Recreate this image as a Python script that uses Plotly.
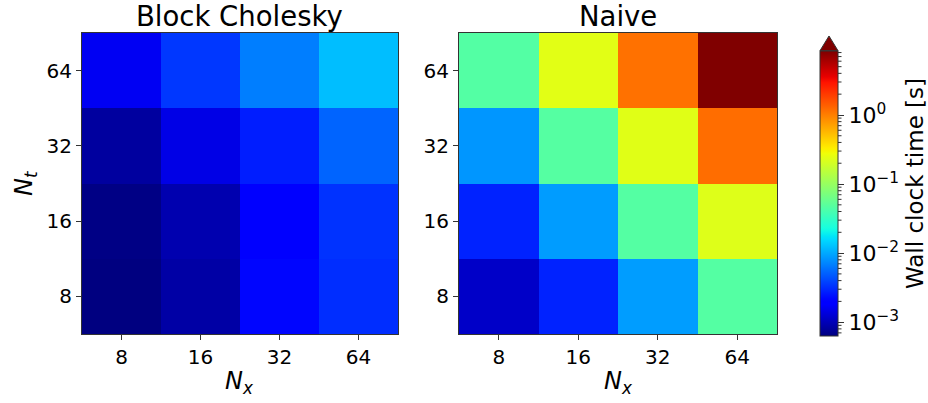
import numpy as np
import plotly.graph_objects as go

# ---------------- data ----------------
nx_labels = ["8", "16", "32", "64"]
nt_labels = ["8", "16", "32", "64"]

# wall clock time [s]; rows = Nt (8,16,32,64), cols = Nx (8,16,32,64)
block_cholesky = [
    [6.3e-4, 8.6e-4, 2.17e-3, 3.15e-3],
    [6.6e-4, 9.3e-4, 1.88e-3, 3.3e-3],
    [8.2e-4, 1.46e-3, 2.73e-3, 5.26e-3],
    [1.63e-3, 3.46e-3, 6.67e-3, 1.21e-2],
]
naive = [
    [1.14e-3, 2.84e-3, 9.0e-3, 4.65e-2],
    [2.84e-3, 8.9e-3, 4.65e-2, 0.23],
    [8.4e-3, 4.7e-2, 0.236, 1.2],
    [4.6e-2, 0.24, 1.16, 12.0],
]
cbar_tick_exps = [-3, -2, -1, 0]

# colour limits (log10 seconds)
CMIN, CMAX = -3.2, 0.93

# ---------------- matplotlib "jet" colormap ----------------
_jet = {
    "r": [(0, 0), (0.35, 0), (0.66, 1), (0.89, 1), (1, 0.5)],
    "g": [(0, 0), (0.125, 0), (0.375, 1), (0.64, 1), (0.91, 0), (1, 0)],
    "b": [(0, 0.5), (0.11, 1), (0.34, 1), (0.65, 0), (1, 0)],
}
ts = np.linspace(0, 1, 101)
chan = {k: np.interp(ts, [p[0] for p in v], [p[1] for p in v]) for k, v in _jet.items()}
jet = [[float(t), "rgb(%d,%d,%d)" % (round(chan["r"][i] * 255), round(chan["g"][i] * 255), round(chan["b"][i] * 255))]
       for i, t in enumerate(ts)]

W, H = 928, 403
def px_x(x): return x / W
def px_y(y): return 1 - y / H

FONT = "DejaVu Sans"
TXT = "#000000"

fig = go.Figure()
fig.add_trace(go.Heatmap(x=nx_labels, y=nt_labels, z=np.log10(block_cholesky),
                         coloraxis="coloraxis", xaxis="x", yaxis="y", hoverinfo="skip"))
fig.add_trace(go.Heatmap(x=nx_labels, y=nt_labels, z=np.log10(naive),
                         coloraxis="coloraxis", xaxis="x2", yaxis="y2", hoverinfo="skip"))

plot_top, plot_bot = 33, 334
axis_common = dict(type="category", showline=True, linecolor="#333", linewidth=1, mirror=True,
                   ticks="outside", ticklen=5, tickcolor="#333", showgrid=False, zeroline=False,
                   tickfont=dict(family=FONT, size=20, color=TXT))

bar_top, bar_bot = 50.7, 336
bar_left, bar_right = 820, 838
cb_len = (bar_bot - bar_top) / H

fig.update_layout(
    width=W, height=H, margin=dict(l=0, r=0, t=0, b=0),
    paper_bgcolor="white", plot_bgcolor="white",
    font=dict(family=FONT, color=TXT),
    xaxis=dict(domain=[px_x(82), px_x(398)], anchor="y", **axis_common),
    yaxis=dict(domain=[px_y(plot_bot), px_y(plot_top)], anchor="x", **axis_common),
    xaxis2=dict(domain=[px_x(459), px_x(777)], anchor="y2", **axis_common),
    yaxis2=dict(domain=[px_y(plot_bot), px_y(plot_top)], anchor="x2", **axis_common),
    coloraxis=dict(
        colorscale=jet, cmin=CMIN, cmax=CMAX,
        colorbar=dict(
            x=px_x(bar_left), xanchor="left", xpad=0, ypad=0,
            y=px_y(bar_bot), yanchor="bottom", len=cb_len, lenmode="fraction",
            thickness=bar_right - bar_left, thicknessmode="pixels",
            outlinewidth=1, outlinecolor="#333",
            ticks="outside", ticklen=6, tickcolor="#333",
            tickvals=cbar_tick_exps,
            ticktext=["10<sup>%s</sup>" % (str(e).replace("-", "\u2212")) for e in cbar_tick_exps],
            tickfont=dict(family=FONT, size=22, color=TXT),
        ),
    ),
)

# titles and axis labels
ann = [
    dict(text="Block Cholesky", x=px_x(239), y=px_y(16), font=dict(size=27.5)),
    dict(text="Naive", x=px_x(618), y=px_y(16), font=dict(size=27.5)),
    dict(text="<i>N</i><sub><i>x</i></sub>", x=px_x(239), y=px_y(382), font=dict(size=24)),
    dict(text="<i>N</i><sub><i>x</i></sub>", x=px_x(618), y=px_y(382), font=dict(size=24)),
    dict(text="<i>N</i><sub><i>t</i></sub>", x=px_x(26), y=px_y(183), font=dict(size=24), textangle=-90),
    dict(text="Wall clock time [s]", x=px_x(915), y=px_y(184), font=dict(size=23), textangle=-90),
]
for a in ann:
    a.update(xref="paper", yref="paper", showarrow=False, xanchor="center", yanchor="middle")
    a["font"].update(family=FONT, color=TXT)
    fig.add_annotation(**a)

# extend-max triangle on the colour bar
tri_tip = 36
fig.add_shape(type="path", xref="paper", yref="paper",
              path="M %f,%f L %f,%f L %f,%f Z" % (px_x(bar_left), px_y(bar_top), px_x(bar_right), px_y(bar_top),
                                                   px_x((bar_left + bar_right) / 2), px_y(tri_tip)),
              fillcolor="rgb(128,0,0)", line=dict(color="#333", width=1))

# minor log ticks on the colour bar
for d in range(-4, 1):
    for k in range(2, 10):
        lv = np.log10(k * 10.0 ** d)
        if CMIN < lv < CMAX:
            ypx = bar_bot - (lv - CMIN) / (CMAX - CMIN) * (bar_bot - bar_top)
            fig.add_shape(type="line", xref="paper", yref="paper",
                          x0=px_x(bar_right), x1=px_x(bar_right + 3.5), y0=px_y(ypx), y1=px_y(ypx),
                          line=dict(color="#333", width=1))

fig.write_html("out.html")
